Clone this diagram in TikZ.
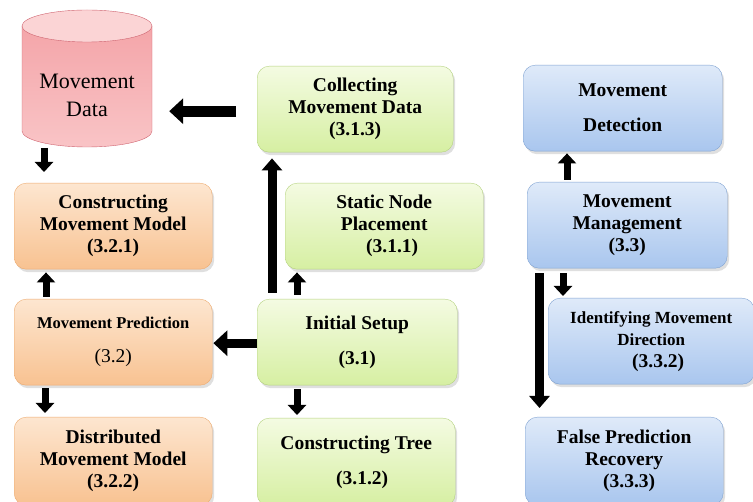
\documentclass[tikz,border=0pt]{standalone}
\usepackage{fontspec}
\setmainfont{Liberation Serif}
\usetikzlibrary{arrows.meta, calc, positioning, shapes.geometric, shadows}
\definecolor{greentop}{HTML}{F4FBE2}
\definecolor{greenbot}{HTML}{D6EFA2}
\definecolor{greenline}{HTML}{B4D27E}
\definecolor{orangetop}{HTML}{FDE6D0}
\definecolor{orangebot}{HTML}{F8C291}
\definecolor{orangeline}{HTML}{EDAA6E}
\definecolor{bluetop}{HTML}{DFEAF9}
\definecolor{bluebot}{HTML}{A9C6EE}
\definecolor{blueline}{HTML}{7FA2D2}
\definecolor{cyltop}{HTML}{F4A5A9}
\definecolor{cylbot}{HTML}{F9C4C6}
\definecolor{cylend}{HTML}{FBD4D5}
\definecolor{cylline}{HTML}{CF6470}

\tikzset{
  box/.style={rounded corners=12pt, align=center, anchor=north west,
    minimum width=198pt, minimum height=86pt, inner sep=2pt,
    drop shadow={opacity=0.25, shadow xshift=2pt, shadow yshift=-3pt},
    font=\fontsize{19.5}{22}\selectfont\bfseries},
  greenbox/.style={box, draw=greenline, top color=greentop, bottom color=greenbot},
  orangebox/.style={box, draw=orangeline, top color=orangetop, bottom color=orangebot},
  bluebox/.style={box, draw=blueline, top color=bluetop, bottom color=bluebot},
  dbtext/.style={align=center, minimum width=130pt, inner sep=0pt,
    font=\fontsize{22}{28}\selectfont},
  flow/.style={-{Triangle[length=10pt,width=18pt]}, line width=7pt},
  longflow/.style={-{Triangle[length=12pt,width=20pt]}, line width=9pt},
  wideflow/.style={-{Triangle[length=14pt,width=25pt]}, line width=11pt}
}

\begin{document}
\begin{tikzpicture}[x=1pt, y=-1pt]
  \useasboundingbox (0,0) rectangle (753,502);

  % storage drum
  \shade[top color=cyltop, bottom color=cylbot] (22,26) -- (22,131)
    arc[start angle=180, end angle=360, x radius=65pt, y radius=16pt] -- (152,26) -- cycle;
  \draw[cylline] (22,26) -- (22,131)
    arc[start angle=180, end angle=360, x radius=65pt, y radius=16pt] -- (152,26);
  \filldraw[draw=cylline, fill=cylend] (87,26) ellipse [x radius=65pt, y radius=16pt];
  \node(data) [dbtext] at (87,95) {Movement\\Data};

  %-------------------------------------------------------------
  \node(collect) [greenbox, minimum width=196pt] at (257,66) {Collecting\\Movement Data\\(3.1.3)};
  \node(static) [greenbox] at (285,183) {Static Node\\Placement\\\hspace*{16pt}(3.1.1)};
  \node(setup) [greenbox, minimum width=200pt] at (257,299) {Initial Setup\\[13pt](3.1)};
  \node(tree) [greenbox, minimum height=88pt] at (257,418) {Constructing Tree\\[13pt]\hspace*{12pt}(3.1.2)};

  %-------------------------------------------------------------
  \node(model) [orangebox] at (14,183) {Constructing\\Movement Model\\(3.2.1)};
  \node(predict) [orangebox] at (14,299) {{\fontsize{16.5}{20}\selectfont Movement Prediction}\\[12pt]{\mdseries(3.2)}};
  \node(distrib) [orangebox, minimum height=88pt] at (14,417) {Distributed\\Movement Model\\(3.2.2)};

  %-------------------------------------------------------------
  \node(detect) [bluebox, minimum width=199pt] at (523,65) {Movement\\[13pt]Detection};
  \node(manage) [bluebox, minimum width=200pt] at (527,182) {Movement\\Management\\(3.3)};
  \node(ident) [bluebox, minimum width=206pt] at (548,298) {{\fontsize{17}{20}\selectfont Identifying Movement}\\{\fontsize{17}{20}\selectfont Direction}\\\hspace*{14pt}(3.3.2)};
  \node(recover) [bluebox, minimum height=88pt] at (525,417) {False Prediction\\Recovery\\\hspace*{10pt}(3.3.3)};

  %-------------------------------------------------------------
  \draw [wideflow] ([xshift=-21pt,yshift=-2pt]collect.west) -- ([xshift=17pt,yshift=-2pt]data.east |- collect.west);
  \draw [flow] ([xshift=30pt,yshift=35pt]model.north west) -- ([xshift=30pt,yshift=11pt]model.north west);
  \draw [flow] ([xshift=32pt,yshift=2pt]predict.north west) -- ([xshift=32pt,yshift=-3pt]model.south west);
  \draw [flow] ([xshift=31pt,yshift=-3pt]predict.south west) -- ([xshift=31pt,yshift=4pt]distrib.north west);
  \draw [wideflow, line width=9pt] ([yshift=-1pt]setup.west) -- ([xshift=1pt,yshift=-1pt]setup.west -| predict.east);

  \draw [longflow] ([xshift=15pt,yshift=6pt]setup.north west) -- ([xshift=15pt,yshift=-6pt]collect.south west);
  \draw [flow] ([xshift=40pt,yshift=4pt]setup.north west) -- ([xshift=12pt,yshift=-3pt]static.south west);
  \draw [flow] ([xshift=40pt,yshift=-4pt]setup.south west) -- ([xshift=40pt,yshift=3pt]tree.north west);

  \draw [flow] ([xshift=40pt,yshift=2pt]manage.north west) -- ([xshift=40pt,yshift=-2pt]detect.south west -| manage.north west);
  \draw [flow] ([xshift=36pt,yshift=-5pt]manage.south west) -- ([xshift=15pt,yshift=2pt]ident.north west);
  \draw [longflow] ([xshift=12.5pt,yshift=-5pt]manage.south west) -- ([xshift=14.5pt,yshift=9pt]recover.north west);
\end{tikzpicture}
\end{document}
